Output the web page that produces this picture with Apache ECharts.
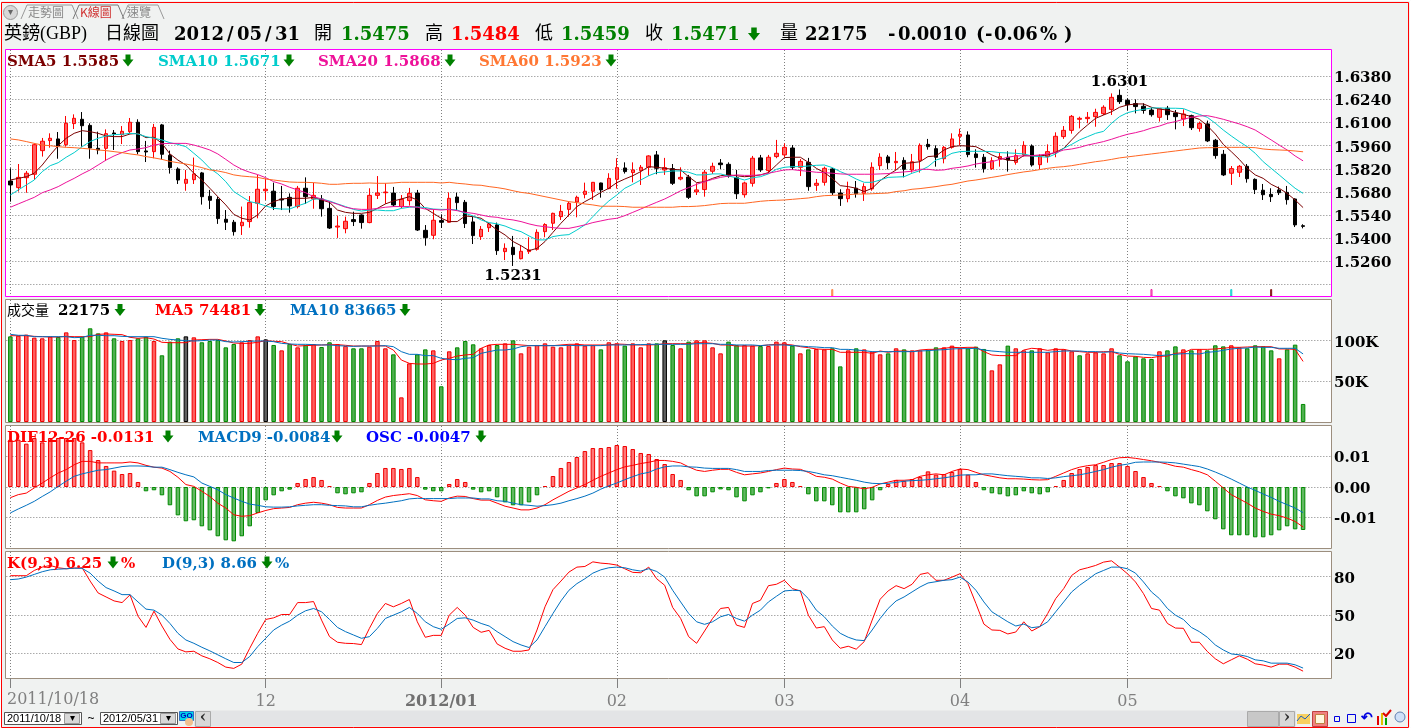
<!DOCTYPE html>
<html>
<head>
<meta charset="utf-8">
<title>英鎊(GBP) 日線圖</title>
<style>
  html, body { margin: 0; padding: 0; background: #fff; }
  #chart { width: 1411px; height: 728px; }
</style>
<script src="https://cdn.jsdelivr.net/npm/echarts@6/dist/echarts.min.js"></script>
</head>
<body>
<div id="chart"></div>
<script>
// open, close, low, high
const ohlc = [
[1.5746,1.5722,1.5621,1.5823],[1.5706,1.5768,1.5682,1.5849],[1.5766,1.5793,1.5675,1.5807],[1.5787,1.5966,1.5752,1.5974],[1.5930,1.5987,1.5894,1.6007],
[1.5991,1.6005,1.5948,1.6035],[1.6001,1.5958,1.5881,1.6043],[1.5966,1.6096,1.5954,1.6140],[1.6094,1.6126,1.6061,1.6150],[1.6120,1.6081,1.5954,1.6164],
[1.6083,1.5946,1.5881,1.6096],[1.5944,1.5934,1.5908,1.6045],[1.5944,1.6033,1.5867,1.6059],[1.6037,1.6031,1.5934,1.6055],[1.6027,1.6047,1.5970,1.6079],
[1.6045,1.6102,1.6031,1.6128],[1.6102,1.5924,1.5908,1.6120],[1.5928,1.5922,1.5861,1.5989],[1.5924,1.6071,1.5884,1.6092],[1.6086,1.5908,1.5877,1.6092],
[1.5902,1.5827,1.5791,1.5930],[1.5819,1.5752,1.5728,1.5829],[1.5732,1.5756,1.5687,1.5813],[1.5754,1.5789,1.5728,1.5888],[1.5795,1.5651,1.5603,1.5801],
[1.5653,1.5629,1.5576,1.5692],[1.5635,1.5518,1.5486,1.5651],[1.5514,1.5496,1.5449,1.5570],[1.5496,1.5439,1.5415,1.5510],[1.5475,1.5496,1.5419,1.5591],
[1.5500,1.5615,1.5463,1.5655],[1.5611,1.5696,1.5520,1.5783],[1.5687,1.5696,1.5631,1.5762],[1.5684,1.5591,1.5570,1.5736],[1.5637,1.5631,1.5570,1.5716],
[1.5647,1.5595,1.5554,1.5671],[1.5591,1.5702,1.5580,1.5716],[1.5702,1.5651,1.5607,1.5768],[1.5637,1.5659,1.5578,1.5736],[1.5637,1.5578,1.5530,1.5661],
[1.5580,1.5461,1.5455,1.5621],[1.5467,1.5473,1.5401,1.5536],[1.5457,1.5502,1.5429,1.5530],[1.5512,1.5500,1.5473,1.5560],[1.5540,1.5494,1.5457,1.5544],
[1.5494,1.5659,1.5490,1.5702],[1.5659,1.5673,1.5637,1.5776],[1.5675,1.5679,1.5607,1.5732],[1.5673,1.5601,1.5591,1.5710],[1.5591,1.5635,1.5580,1.5661],
[1.5627,1.5671,1.5597,1.5704],[1.5673,1.5449,1.5443,1.5692],[1.5447,1.5403,1.5354,1.5479],[1.5417,1.5508,1.5393,1.5574],[1.5506,1.5496,1.5461,1.5544],
[1.5496,1.5641,1.5494,1.5677],[1.5649,1.5615,1.5570,1.5675],[1.5617,1.5488,1.5461,1.5631],[1.5498,1.5415,1.5364,1.5530],[1.5409,1.5453,1.5389,1.5473],
[1.5463,1.5486,1.5437,1.5494],[1.5480,1.5324,1.5298,1.5494],[1.5318,1.5338,1.5267,1.5368],[1.5344,1.5300,1.5231,1.5413],[1.5275,1.5320,1.5271,1.5358],
[1.5318,1.5328,1.5304,1.5405],[1.5332,1.5435,1.5324,1.5453],[1.5439,1.5482,1.5405,1.5490],[1.5490,1.5550,1.5449,1.5554],[1.5530,1.5562,1.5510,1.5601],
[1.5574,1.5611,1.5530,1.5621],[1.5619,1.5647,1.5526,1.5657],[1.5665,1.5684,1.5641,1.5736],[1.5684,1.5738,1.5631,1.5740],[1.5734,1.5692,1.5645,1.5736],
[1.5700,1.5762,1.5696,1.5793],[1.5756,1.5827,1.5700,1.5884],[1.5825,1.5803,1.5791,1.5859],[1.5797,1.5813,1.5738,1.5859],[1.5809,1.5829,1.5722,1.5843],
[1.5829,1.5898,1.5778,1.5902],[1.5904,1.5823,1.5787,1.5928],[1.5813,1.5827,1.5783,1.5886],[1.5821,1.5732,1.5722,1.5849],[1.5758,1.5768,1.5750,1.5829],
[1.5770,1.5647,1.5637,1.5783],[1.5680,1.5692,1.5661,1.5732],[1.5694,1.5799,1.5651,1.5813],[1.5805,1.5835,1.5789,1.5857],[1.5855,1.5845,1.5819,1.5879],
[1.5847,1.5776,1.5766,1.5859],[1.5766,1.5669,1.5637,1.5813],[1.5663,1.5734,1.5645,1.5742],[1.5732,1.5884,1.5712,1.5898],[1.5886,1.5813,1.5801,1.5904],
[1.5809,1.5890,1.5793,1.5904],[1.5894,1.5914,1.5884,1.5995],[1.5904,1.5950,1.5890,1.5974],[1.5946,1.5829,1.5813,1.5964],[1.5829,1.5865,1.5776,1.5879],
[1.5859,1.5712,1.5687,1.5886],[1.5720,1.5732,1.5686,1.5758],[1.5738,1.5823,1.5718,1.5833],[1.5819,1.5675,1.5661,1.5825],[1.5673,1.5639,1.5595,1.5696],
[1.5639,1.5696,1.5617,1.5742],[1.5702,1.5669,1.5645,1.5746],[1.5671,1.5712,1.5625,1.5732],[1.5698,1.5829,1.5687,1.5859],[1.5839,1.5890,1.5813,1.5914],
[1.5892,1.5857,1.5817,1.5904],[1.5857,1.5865,1.5813,1.5922],[1.5871,1.5817,1.5768,1.5890],[1.5813,1.5863,1.5797,1.5910],[1.5871,1.5962,1.5797,1.5974],
[1.5968,1.5954,1.5936,1.6001],[1.5942,1.5890,1.5833,1.5962],[1.5881,1.5950,1.5853,1.5958],[1.5950,1.6001,1.5942,1.6035],[1.6017,1.6029,1.5964,1.6063],
[1.6025,1.5906,1.5890,1.6047],[1.5910,1.5888,1.5827,1.5938],[1.5890,1.5821,1.5797,1.5910],[1.5821,1.5869,1.5813,1.5890],[1.5877,1.5894,1.5833,1.5918],
[1.5890,1.5873,1.5803,1.5926],[1.5859,1.5900,1.5845,1.5938],[1.5904,1.5962,1.5894,1.5987],[1.5958,1.5843,1.5833,1.5968],[1.5845,1.5894,1.5817,1.5908],
[1.5894,1.5924,1.5857,1.5968],[1.5920,1.6017,1.5890,1.6041],[1.6015,1.6053,1.6001,1.6079],[1.6053,1.6138,1.6033,1.6146],[1.6120,1.6126,1.6065,1.6136],
[1.6124,1.6132,1.6096,1.6164],[1.6136,1.6162,1.6075,1.6184],[1.6154,1.6193,1.6146,1.6205],[1.6180,1.6253,1.6146,1.6277],[1.6265,1.6227,1.6213,1.6301],
[1.6235,1.6209,1.6174,1.6247],[1.6215,1.6197,1.6156,1.6241],[1.6199,1.6174,1.6154,1.6217],[1.6176,1.6148,1.6136,1.6191],[1.6132,1.6185,1.6106,1.6187],
[1.6187,1.6148,1.6116,1.6201],[1.6158,1.6136,1.6059,1.6176],[1.6122,1.6152,1.6079,1.6180],[1.6142,1.6069,1.6055,1.6148],[1.6065,1.6094,1.6045,1.6106],
[1.6092,1.5989,1.5982,1.6112],[1.5993,1.5900,1.5881,1.6001],[1.5908,1.5783,1.5776,1.5934],[1.5793,1.5821,1.5722,1.5837],[1.5799,1.5835,1.5770,1.5843],
[1.5835,1.5760,1.5736,1.5849],[1.5756,1.5694,1.5667,1.5762],[1.5690,1.5663,1.5631,1.5728],[1.5665,1.5651,1.5619,1.5702],[1.5692,1.5675,1.5661,1.5712],
[1.5677,1.5633,1.5603,1.5716],[1.5637,1.5480,1.5467,1.5641],[1.5475,1.5471,1.5459,1.5484]
];
const sma5 = [1.5752,1.5762,1.5772,1.5793,1.5843,1.5904,1.5960,1.6005,1.6035,1.6051,1.6045,1.6035,1.6019,1.6015,1.6015,1.6031,1.6035,1.6009,1.6011,1.5974,
1.5910,1.5873,1.5843,1.5793,1.5752,1.5702,1.5651,1.5601,1.5544,1.5520,1.5510,1.5540,1.5595,1.5621,1.5637,1.5641,1.5641,1.5641,1.5647,1.5631,
1.5617,1.5570,1.5556,1.5550,1.5550,1.5556,1.5580,1.5607,1.5625,1.5637,1.5651,1.5631,1.5580,1.5550,1.5520,1.5500,1.5500,1.5534,1.5530,1.5520,
1.5486,1.5449,1.5419,1.5379,1.5354,1.5324,1.5338,1.5379,1.5435,1.5490,1.5540,1.5591,1.5621,1.5647,1.5677,1.5702,1.5736,1.5758,1.5778,1.5803,
1.5833,1.5829,1.5823,1.5817,1.5813,1.5772,1.5736,1.5742,1.5762,1.5778,1.5783,1.5778,1.5772,1.5776,1.5783,1.5797,1.5843,1.5888,1.5890,1.5890,
1.5859,1.5823,1.5797,1.5762,1.5718,1.5712,1.5702,1.5682,1.5702,1.5748,1.5783,1.5813,1.5853,1.5857,1.5863,1.5894,1.5898,1.5934,1.5954,1.5960,
1.5958,1.5954,1.5930,1.5904,1.5884,1.5873,1.5869,1.5900,1.5898,1.5898,1.5904,1.5920,1.5944,1.5995,1.6045,1.6086,1.6126,1.6146,1.6166,1.6193,
1.6207,1.6213,1.6213,1.6193,1.6182,1.6176,1.6162,1.6150,1.6136,1.6120,1.6081,1.6031,1.5968,1.5924,1.5877,1.5823,1.5783,1.5762,1.5726,1.5702,
1.5671,1.5631,1.5585];
const sma10 = [1.5661,1.5692,1.5722,1.5752,1.5803,1.5839,1.5857,1.5890,1.5918,1.5954,1.5985,1.6005,1.6019,1.6027,1.6029,1.6035,1.6031,1.6015,1.6005,1.5995,
1.5978,1.5968,1.5954,1.5914,1.5873,1.5823,1.5789,1.5742,1.5682,1.5651,1.5621,1.5611,1.5595,1.5580,1.5576,1.5576,1.5595,1.5611,1.5637,1.5637,
1.5625,1.5607,1.5591,1.5574,1.5564,1.5570,1.5570,1.5566,1.5566,1.5580,1.5587,1.5589,1.5585,1.5576,1.5574,1.5574,1.5570,1.5550,1.5534,1.5510,
1.5494,1.5486,1.5473,1.5453,1.5439,1.5413,1.5389,1.5389,1.5409,1.5417,1.5421,1.5449,1.5480,1.5530,1.5580,1.5625,1.5661,1.5702,1.5726,1.5752,
1.5778,1.5797,1.5801,1.5807,1.5807,1.5799,1.5783,1.5783,1.5789,1.5789,1.5776,1.5766,1.5752,1.5766,1.5772,1.5789,1.5817,1.5829,1.5833,1.5833,
1.5837,1.5841,1.5843,1.5827,1.5803,1.5783,1.5758,1.5738,1.5738,1.5752,1.5768,1.5770,1.5772,1.5793,1.5809,1.5833,1.5873,1.5888,1.5914,1.5924,
1.5926,1.5926,1.5926,1.5924,1.5918,1.5916,1.5914,1.5910,1.5898,1.5894,1.5890,1.5910,1.5944,1.5968,1.5995,1.6015,1.6035,1.6047,1.6096,1.6136,
1.6160,1.6172,1.6180,1.6189,1.6189,1.6187,1.6187,1.6185,1.6166,1.6150,1.6132,1.6096,1.6055,1.6019,1.5985,1.5954,1.5914,1.5863,1.5823,1.5783,
1.5742,1.5702,1.5671];
const sma20 = [1.5587,1.5607,1.5627,1.5647,1.5675,1.5692,1.5712,1.5738,1.5762,1.5789,1.5813,1.5843,1.5873,1.5898,1.5918,1.5934,1.5940,1.5948,1.5964,1.5972,
1.5974,1.5974,1.5974,1.5964,1.5950,1.5934,1.5910,1.5877,1.5843,1.5817,1.5799,1.5785,1.5766,1.5742,1.5728,1.5708,1.5692,1.5675,1.5651,1.5637,
1.5621,1.5605,1.5587,1.5578,1.5574,1.5574,1.5580,1.5587,1.5591,1.5591,1.5591,1.5587,1.5576,1.5574,1.5570,1.5574,1.5566,1.5556,1.5550,1.5540,
1.5530,1.5526,1.5516,1.5510,1.5500,1.5486,1.5475,1.5469,1.5463,1.5459,1.5459,1.5469,1.5480,1.5494,1.5504,1.5514,1.5520,1.5536,1.5556,1.5576,
1.5597,1.5617,1.5637,1.5661,1.5687,1.5706,1.5726,1.5742,1.5756,1.5768,1.5776,1.5783,1.5780,1.5780,1.5783,1.5793,1.5803,1.5813,1.5815,1.5809,
1.5805,1.5799,1.5797,1.5793,1.5789,1.5787,1.5787,1.5787,1.5787,1.5789,1.5791,1.5797,1.5801,1.5805,1.5817,1.5817,1.5811,1.5813,1.5823,1.5829,
1.5837,1.5849,1.5857,1.5863,1.5877,1.5890,1.5898,1.5898,1.5900,1.5904,1.5910,1.5918,1.5934,1.5940,1.5950,1.5964,1.5974,1.5985,1.5999,1.6015,
1.6029,1.6039,1.6051,1.6067,1.6079,1.6096,1.6106,1.6120,1.6132,1.6140,1.6142,1.6132,1.6120,1.6106,1.6092,1.6075,1.6055,1.6025,1.5995,1.5964,
1.5934,1.5898,1.5868];
const sma60 = [1.6001,1.5995,1.5985,1.5974,1.5964,1.5960,1.5954,1.5950,1.5948,1.5944,1.5940,1.5934,1.5930,1.5924,1.5918,1.5910,1.5904,1.5894,1.5886,1.5877,
1.5865,1.5857,1.5849,1.5839,1.5827,1.5813,1.5807,1.5797,1.5783,1.5776,1.5772,1.5768,1.5758,1.5752,1.5746,1.5740,1.5738,1.5738,1.5736,1.5732,
1.5726,1.5726,1.5730,1.5732,1.5732,1.5734,1.5732,1.5732,1.5734,1.5738,1.5738,1.5738,1.5738,1.5738,1.5734,1.5738,1.5732,1.5728,1.5722,1.5720,
1.5712,1.5706,1.5698,1.5687,1.5677,1.5671,1.5661,1.5651,1.5641,1.5631,1.5621,1.5615,1.5607,1.5601,1.5593,1.5593,1.5593,1.5591,1.5587,1.5587,
1.5587,1.5587,1.5587,1.5587,1.5591,1.5591,1.5593,1.5597,1.5603,1.5609,1.5611,1.5611,1.5611,1.5617,1.5623,1.5627,1.5629,1.5631,1.5635,1.5639,
1.5643,1.5651,1.5657,1.5659,1.5661,1.5663,1.5667,1.5667,1.5669,1.5671,1.5673,1.5682,1.5687,1.5696,1.5700,1.5706,1.5712,1.5720,1.5726,1.5736,
1.5746,1.5752,1.5760,1.5768,1.5776,1.5785,1.5793,1.5801,1.5807,1.5815,1.5823,1.5829,1.5833,1.5839,1.5847,1.5855,1.5863,1.5869,1.5877,1.5886,
1.5892,1.5898,1.5904,1.5910,1.5916,1.5922,1.5928,1.5934,1.5940,1.5946,1.5948,1.5948,1.5950,1.5950,1.5950,1.5950,1.5948,1.5940,1.5936,1.5934,
1.5932,1.5928,1.5923];
// volume in thousands
const volume = [105.3,106.1,107.4,103.7,102.9,104.9,104.5,110.2,100.8,104.9,115.2,109,110.2,102.9,99.6,100.8,102.9,104.9,99.6,82,
98.8,102.9,105.3,104.1,98,99.6,100.8,91.8,95.9,98,100.8,105.3,101.6,94.7,88.1,95.9,91.8,94.7,95.9,92.2,
98,95.9,93.4,90.6,90.6,92.6,99.6,90.6,83.2,30.3,72.1,83.2,89.3,88.1,43.9,86.9,91.8,99.6,95.5,90.6,
94.7,94.7,96.7,100.4,84.4,92.6,94.7,96.7,92.6,91.8,94.7,96.7,93.9,94.7,89.3,98,96.7,93.9,96.7,91.8,
96.7,96.7,100.4,94.7,90.6,98.8,100.4,100.4,91.8,84.4,98.8,94.7,94.7,93.9,93.4,93.4,98.8,98,93.9,84.4,
89.3,89.8,89.3,90.6,68.4,88.1,90.6,89.3,86.5,83.2,84.4,90.6,89.3,88.1,88.1,88.5,91.8,91.8,93.9,90.6,
90.6,92.6,89.8,63.5,70.9,93.9,90.6,88.1,88.1,90.6,85.7,90.6,89.3,86.9,82,84.4,85.7,84.4,90.6,82,
74.6,80.7,78.3,77.5,86.9,88.1,93,89.3,88.1,89.3,88.1,94.3,93,94.3,91.8,90.6,94.3,93,88.1,78.3,
89.3,95.1,22.175];
// r up, g down, k flat
const volumeSide = ("grrrrrgrrg"+"ggrgrrggrg"+"ggkrgggggr"+"rrkgrgrgrg"+"grrggrrrgr"+"rggrgrgggr"+"rgrgrrrrrr"+"rrrrgrrgrr"+
  "rgkgrgrrrr"+"ggrrgrrrgr"+"grrggrgrrr"+"grgrrggrrr"+"gggrrgrrgr"+"rrrrgrrrrg"+"ggggrggrgr"+"gggrrggggr"+"ggg").split("");
const volMa5 = [106.1,106.1,106.1,105.3,104.9,104.5,104.5,105.3,104.9,104.9,104.9,107.8,108.2,107.8,107.4,104.1,102.9,103.7,102,98,
97.5,97.5,97.5,100.8,101.2,101.6,101.6,99.6,97.1,96.7,96.7,98,100,99.2,98.8,95.9,93.4,93.9,94.3,94.7,
95.1,95.1,94.3,93.4,93.4,93.4,93.9,93.4,88.5,76.2,72.1,71.3,71.3,72.1,76.2,78.3,81.1,82.4,83.2,90.6,
94.7,95.5,95.5,95.5,94.7,93.9,93.9,93.9,93.9,94.7,95.5,95.5,94.7,94.7,94.7,94.7,95.9,95.5,94.7,94.7,
94.7,95.1,96.3,96.3,96.3,96.3,97.5,97.5,96.7,94.7,94.7,93.4,93.4,93.4,93.9,94.7,95.5,95.5,94.7,92.6,
91.4,89.8,89.3,89.3,85.7,85.7,85.7,85.7,84.4,87.3,85.7,87.3,87.3,86.5,88.5,89.3,89.3,90.6,91.8,91.4,
91.8,91.8,86.5,82.4,81.6,81.6,81.6,88.5,90.6,89.8,88.1,89.3,89.3,87.3,86.5,85.7,85.7,86.5,86.5,83.2,
81.1,80.7,79.5,79.1,80.7,81.1,84.4,85.2,89.3,89.3,89.3,89.8,90.6,91.8,91.8,92.2,92.6,92.6,92.6,89.8,
89.8,89.3,74.481];
const volMa10 = [107.8,106.6,106.6,104.9,104.9,104.9,104.9,104.9,103.7,104.1,106.6,106.6,106.1,106.1,105.3,104.9,104.9,104.9,104.9,102.9,
101.6,100.8,100,99.6,100,100.8,100.8,98.8,98.4,98.8,99.2,99.6,99.6,98.8,96.7,95.9,95.5,95.5,95.1,94.7,
94.7,93.9,93.4,93,93.4,93.4,93.4,93.9,92.6,86.5,83.2,83.2,81.6,81.6,78.3,77,76.6,78.3,79.1,84.4,
86.5,88.5,88.5,89.8,92.6,93.9,93.9,93.9,93.9,93.9,94.3,93.9,93.9,93.9,93.9,94.7,94.7,94.7,95.1,95.1,
95.5,95.5,95.5,95.5,95.5,95.5,96.3,96.3,96.3,95.5,95.5,94.7,94.7,94.7,93.9,94.7,94.7,94.7,93.9,93.4,
92.6,92.2,91.4,91.4,89.3,89.3,88.5,87.7,86.5,86.5,86.5,86.5,86.5,86.5,87.3,87.7,88.5,88.9,89.8,90.2,
90.2,90.6,88.5,87.3,86.5,85.7,85.7,85.7,85.7,85.7,85.7,86.5,87.3,87.3,87.3,86.5,86.5,85.7,86.5,84.8,
84,83.6,83.2,82.4,81.6,82.4,83.2,84,84,83.6,85.7,86.5,88.1,89.8,90.6,91,92.2,91.8,91.8,90.6,
90.6,90.6,83.665];
const dif = [-0.0035,-0.0025,-0.0020,-0.0003,0.0013,0.0030,0.0046,0.0057,0.0073,0.0084,0.0084,0.0079,0.0079,0.0079,0.0079,0.0082,0.0079,0.0071,0.0065,0.0062,
0.0051,0.0032,0.0008,0.0002,-0.0014,-0.0031,-0.0053,-0.0069,-0.0091,-0.0096,-0.0094,-0.0085,-0.0077,-0.0071,-0.0069,-0.0067,-0.0058,-0.0053,-0.0050,-0.0053,
-0.0058,-0.0067,-0.0069,-0.0069,-0.0069,-0.0058,-0.0044,-0.0033,-0.0028,-0.0025,-0.0022,-0.0028,-0.0042,-0.0045,-0.0047,-0.0036,-0.0030,-0.0031,-0.0038,-0.0043,
-0.0043,-0.0053,-0.0063,-0.0069,-0.0075,-0.0075,-0.0069,-0.0058,-0.0042,-0.0028,-0.0014,-0.0003,0.0008,0.0022,0.0035,0.0046,0.0057,0.0066,0.0071,0.0077,
0.0081,0.0087,0.0087,0.0084,0.0079,0.0066,0.0055,0.0051,0.0055,0.0058,0.0058,0.0048,0.0040,0.0043,0.0046,0.0051,0.0057,0.0062,0.0059,0.0058,
0.0048,0.0035,0.0032,0.0026,0.0013,0.0002,-0.0001,-0.0006,-0.0001,0.0010,0.0016,0.0022,0.0022,0.0024,0.0035,0.0040,0.0043,0.0040,0.0051,0.0059,
0.0057,0.0048,0.0040,0.0035,0.0030,0.0027,0.0027,0.0026,0.0024,0.0023,0.0024,0.0035,0.0046,0.0057,0.0065,0.0070,0.0073,0.0081,0.0090,0.0096,
0.0097,0.0094,0.0090,0.0086,0.0081,0.0075,0.0068,0.0065,0.0057,0.0050,0.0040,0.0019,-0.0003,-0.0025,-0.0039,-0.0053,-0.0069,-0.0080,-0.0089,-0.0094,
-0.0102,-0.0113,-0.0131];
const macd = [-0.0085,-0.0072,-0.0060,-0.0047,-0.0031,-0.0016,0.0002,0.0019,0.0035,0.0043,0.0049,0.0055,0.0057,0.0062,0.0067,0.0069,0.0069,0.0068,0.0065,0.0065,
0.0057,0.0048,0.0040,0.0033,0.0013,0.0002,-0.0009,-0.0025,-0.0036,-0.0047,-0.0056,-0.0060,-0.0065,-0.0066,-0.0066,-0.0065,-0.0062,-0.0060,-0.0058,-0.0058,
-0.0060,-0.0061,-0.0062,-0.0065,-0.0065,-0.0060,-0.0056,-0.0053,-0.0049,-0.0045,-0.0039,-0.0037,-0.0038,-0.0038,-0.0038,-0.0038,-0.0036,-0.0036,-0.0036,-0.0039,
-0.0039,-0.0045,-0.0047,-0.0053,-0.0058,-0.0060,-0.0063,-0.0061,-0.0058,-0.0053,-0.0045,-0.0038,-0.0030,-0.0020,-0.0007,0.0004,0.0013,0.0024,0.0034,0.0043,
0.0048,0.0059,0.0066,0.0069,0.0069,0.0066,0.0065,0.0062,0.0061,0.0061,0.0061,0.0057,0.0051,0.0051,0.0051,0.0054,0.0055,0.0055,0.0055,0.0054,
0.0051,0.0046,0.0040,0.0037,0.0032,0.0027,0.0022,0.0016,0.0012,0.0011,0.0012,0.0015,0.0019,0.0021,0.0022,0.0024,0.0027,0.0030,0.0034,0.0039,
0.0040,0.0040,0.0043,0.0043,0.0040,0.0037,0.0035,0.0033,0.0030,0.0030,0.0028,0.0030,0.0034,0.0037,0.0040,0.0045,0.0051,0.0057,0.0065,0.0071,
0.0075,0.0081,0.0082,0.0082,0.0082,0.0081,0.0079,0.0075,0.0071,0.0067,0.0059,0.0049,0.0038,0.0026,0.0013,0,-0.0011,-0.0023,-0.0034,-0.0047,
-0.0058,-0.0069,-0.0084];
const osc = [0.00517,0.00517,0.00474,0.00536,0.00488,0.00536,0.00536,0.00536,0.00536,0.00488,0.00404,0.00295,0.0023,0.00179,0.00142,0.00153,0.00055,-0.00047,-0.00036,-0.00091,
-0.002,-0.0031,-0.00375,-0.00364,-0.0043,-0.00474,-0.00539,-0.00583,-0.00594,-0.00539,-0.0043,-0.00284,-0.00146,-0.00091,-0.00047,-0.00029,0.00044,0.00087,0.00109,0.00077,
0.00011,-0.00069,-0.0008,-0.00069,-0.00058,0.00044,0.00153,0.00208,0.00208,0.00197,0.00208,0.00109,-0.00029,-0.00047,-0.00047,0.00033,0.00087,0.00055,-0.00029,-0.00058,
-0.00047,-0.00113,-0.00168,-0.002,-0.002,-0.00168,-0.00091,0.00011,0.0012,0.00208,0.00273,0.00328,0.00393,0.00426,0.00426,0.00437,0.00459,0.00448,0.00415,0.00372,
0.00361,0.00306,0.00251,0.00142,0.00077,-0.00036,-0.00102,-0.00102,-0.00058,-0.00026,-0.00036,-0.00113,-0.00157,-0.00091,-0.00058,-0.00015,0.00044,0.00087,0.00055,0.00011,
-0.0008,-0.00157,-0.00157,-0.002,-0.00277,-0.00277,-0.00277,-0.00244,-0.00146,-0.00036,0.00033,0.00077,0.00066,0.00087,0.00109,0.00171,0.00135,0.00142,0.00164,0.00197,
0.00135,0.00055,-0.00036,-0.00069,-0.0008,-0.00102,-0.00091,-0.00047,-0.00069,-0.0008,-0.00058,0.00011,0.00077,0.00153,0.00197,0.00219,0.0024,0.0024,0.00262,0.00262,
0.0023,0.00175,0.00109,0.00044,0.00011,-0.00047,-0.00102,-0.00124,-0.00179,-0.002,-0.00266,-0.00353,-0.00463,-0.00528,-0.00528,-0.00528,-0.0055,-0.0055,-0.00528,-0.00474,
-0.0043,-0.00463,-0.0047];
const kLine = [80.8,80.8,80.8,84.9,87.5,88.8,87,86.2,86.7,87,76.6,67.3,64.2,61.1,59.8,65.8,49.2,40.4,53.1,41.5,
31.1,23.6,21.3,21.8,18.2,15.9,13,9.4,8.4,11.7,24.1,35.8,46.6,47.9,50.5,50.5,59.8,59.8,60.6,46.1,
33.2,28.8,28,27.8,27,39.7,51.3,59.1,56.5,59.1,62.2,44.8,32.7,34.2,34.2,50,56,50,40.4,36.6,
38.1,27.5,24.1,21.8,21.8,22.8,38.4,56.5,69.9,76.6,83.6,87.5,88,91.6,90.6,90.1,89.1,86.2,83.4,83.1,
87.5,78.4,73.3,56,47.4,33.2,28,37.6,47.4,55.2,56,42.2,40.4,59.1,61.6,73,74.1,77.2,70.7,68.9,
50,39.9,41,30.6,24.1,25.7,23.4,29.3,46.1,62.4,68.9,73,70.7,74.1,81.8,83.1,77.2,77.2,79.7,82.3,
74.6,59.1,43,38.4,38.1,35.3,36.8,44.8,37.6,41,51.3,62.9,70.7,81,85.4,87,88.8,91.4,92.4,87.5,
82.3,75.9,66.8,55.2,53.9,43.5,39.9,39.7,28.8,28.8,21.6,15.9,12,15.1,18.2,15.6,12,11,9.4,11.7,
11.7,9.4,6.25];
const dLine = [77.7,78.2,79.7,81.8,83.9,85.4,85.9,86.2,86.7,86.5,82.8,76.6,71.5,68.9,66,66,60.3,54.7,53.9,50,
43.5,35.8,30.6,28,24.9,22.1,19,15.9,13,13,17.7,25.4,31.9,38.4,42.2,45.3,50,53.4,55.2,52.6,
46.6,40.4,37.1,34.5,31.9,33.2,39.7,47.4,50,52.6,56,51.3,44.8,41,38.9,43,47.4,47.9,46.1,43.5,
41.5,37.1,33.2,29.3,26.7,24.7,30.6,41,51.3,61.1,69.4,74.6,78.4,82.8,85.4,87,87.5,87,85.4,84.4,
86.2,84.1,79.7,69.4,60.3,51.3,44.8,42.8,44.8,48.7,50.5,47.4,45.3,50,53.9,60.3,64.7,68.9,69.4,69.1,
62.9,53.9,48.7,41.5,35.8,32.7,30.6,30.1,38.4,47.4,55.2,61.1,64.2,68.1,72,75.1,76.1,77.2,77.7,79.7,
75.9,69.4,60.3,52.6,48.7,44.8,41.5,43,40.2,41,44.8,52.6,60.3,68.1,73.3,77.7,82.3,84.9,87.5,87.5,
86.2,82.8,75.9,68.1,62.9,55.2,50,46.6,40.4,37.1,32.7,26.7,22.8,19.7,19,17.7,15.1,14.3,12.5,12.5,
12.5,11.2,8.66];
const priceTicks = [1.526,1.54,1.554,1.568,1.582,1.596,1.61,1.624,1.638];
const priceGrid = [1.512].concat(priceTicks);
const volumeTicks = [50,100];
const macdTicks = [-0.01,0,0.01];
const kdTicks = [20,50,80];
const monthTicks = [0,32,54,76,97,119,140];
const monthLabels = ["2011/10/18","12","{b|2012/01}","02","03","04","05"];
// small cross marks along the bottom of the price panel: index, height
const crossIdx = [103,143,153,158];
const crossVal = [1.5091,1.5091,1.5091,1.5091];
const crossColor = ["#FF7733","#EE1199","#00CCCC","#7B0000"];

// weekdays from the first bar, 3 spare slots on the right like the original
const categories = [];
for (let d = new Date(Date.UTC(2011, 9, 18)); categories.length < 166; d.setUTCDate(d.getUTCDate() + 1)) {
  const wd = d.getUTCDay();
  if (wd === 0 || wd === 6) continue;
  categories.push(d.toISOString().slice(0, 10).replace(/-/g, "/"));
}

const SERIF = '"DejaVu Serif"';
const CJK = '"Liberation Serif","Noto Sans CJK TC"';
const GREEN = "#008000";
const isTick = function (i) { return monthTicks.indexOf(i) >= 0; };
const dotted = { type: [1, 2], color: "#808080", width: 1 };

const grids = [
  { top: 50, height: 246 },
  { top: 300, height: 122 },
  { top: 426, height: 122 },
  { top: 552, height: 126 }
].map(function (g) {
  return { show: false, left: 6.34, width: 1324.68, top: g.top, height: g.height };
});

const xAxes = [0, 1, 2, 3].map(function (i) {
  const last = i === 3;
  return {
    type: "category", gridIndex: i, data: categories, boundaryGap: true,
    axisLine: { show: false },
    axisTick: { show: last, interval: isTick, alignWithLabel: true, length: 10, lineStyle: { color: "#808080" } },
    axisLabel: {
      show: last, interval: isTick, margin: 16,
      color: "#808080", fontFamily: SERIF, fontSize: 16,
      rich: { b: { fontFamily: SERIF, fontSize: 16, fontWeight: "bold", color: "#707070" } },
      formatter: function (v, idx) { return idx === 0 ? "" : monthLabels[monthTicks.indexOf(idx)] || ""; }
    },
    splitLine: { show: true, interval: isTick, alignWithLabel: true, lineStyle: dotted }
  };
});

function rightAxis(gridIndex, min, max, labels, lines, fmt) {
  return {
    type: "value", gridIndex: gridIndex, position: "right", min: min, max: max, scale: true,
    axisLine: { show: false },
    axisTick: { show: false, customValues: lines },
    axisLabel: {
      customValues: labels, margin: 3,
      formatter: function (v) { return "{v|" + fmt(v) + "}"; },
      rich: { v: { padding: [4, 0, 0, 0], color: "#000", fontFamily: SERIF, fontWeight: "bold", fontSize: 15 } }
    },
    splitLine: { show: true, lineStyle: dotted }
  };
}

const yAxes = [
  rightAxis(0, 1.5049, 1.654, priceTicks, priceGrid, function (v) { return v.toFixed(4); }),
  rightAxis(1, 0, 150, volumeTicks, volumeTicks, function (v) { return v + "K"; }),
  rightAxis(2, -0.02, 0.02, macdTicks, macdTicks, function (v) { return v.toFixed(2); }),
  rightAxis(3, 0.9, 99.3, kdTicks, kdTicks, function (v) { return String(v); }),
  // OSC bars run on their own 3x scale
  { type: "value", gridIndex: 2, show: false, min: -0.00667, max: 0.00667, splitLine: { show: false } }
];

function line(name, data, color, x, y) {
  return { name: name, type: "line", xAxisIndex: x, yAxisIndex: y, data: data, symbol: "none", silent: true,
    lineStyle: { color: color, width: 1 }, z: 5 };
}
const barPaint = {
  r: { color: "#FF5F5F", borderColor: "#F00000", borderWidth: 1 },
  g: { color: "#4FAF4F", borderColor: "#008A00", borderWidth: 1 },
  k: { color: "#606060", borderColor: "#000", borderWidth: 1 }
};
const oscPaint = {
  r: { color: "#FF7878", borderColor: "#F00000", borderWidth: 1 },
  g: { color: "#62B862", borderColor: "#008A00", borderWidth: 1 }
};

const series = [
  {
    name: "K", type: "candlestick", xAxisIndex: 0, yAxisIndex: 0, data: ohlc, barWidth: 4,
    itemStyle: { color: "#FF6060", color0: "#000", borderColor: "#FF0000", borderColor0: "#000", borderWidth: 1 },
    markPoint: {
      symbol: "circle", symbolSize: 0, silent: true,
      label: { show: true, color: "#000", fontFamily: SERIF, fontWeight: "bold", fontSize: 15 },
      data: [
        { coord: [categories[139], 1.6301], label: { position: "top", formatter: "1.6301", distance: 0 } },
        { coord: [categories[63], 1.5231], label: { position: "bottom", formatter: "1.5231", distance: 3 } }
      ]
    }
  },
  {
    name: "cross", type: "bar", xAxisIndex: 0, yAxisIndex: 0, barWidth: 2, silent: true,
    data: crossIdx.map(function (c, i) {
      return { value: [c, crossVal[i]], itemStyle: { color: "#fff", borderColor: crossColor[i], borderWidth: 1 } };
    })
  },
  line("SMA5", sma5, "#7B0000", 0, 0),
  line("SMA10", sma10, "#00CCCC", 0, 0),
  line("SMA20", sma20, "#EE1199", 0, 0),
  line("SMA60", sma60, "#FF6622", 0, 0),
  {
    name: "VOL", type: "bar", xAxisIndex: 1, yAxisIndex: 1, barWidth: 4.5, silent: true,
    data: volume.map(function (v, i) { return { value: v, itemStyle: barPaint[volumeSide[i]] }; })
  },
  line("MA5", volMa5, "#FF0000", 1, 1),
  line("MA10", volMa10, "#0070C0", 1, 1),
  {
    name: "OSC", type: "bar", xAxisIndex: 2, yAxisIndex: 4, barWidth: 4.5, silent: true,
    data: osc.map(function (v) { return { value: v, itemStyle: oscPaint[v >= 0 ? "r" : "g"] }; })
  },
  line("DIF", dif, "#FF0000", 2, 2),
  line("MACD", macd, "#0070C0", 2, 2),
  line("K(9,3)", kLine, "#FF0000", 3, 3),
  line("D(9,3)", dLine, "#0070C0", 3, 3)
];

// ---- everything around the plots ----
const deco = [];
function text(str, x, y, color, font, align) {
  deco.push({ type: "text", x: x, y: y, z: 50, silent: true,
    style: { text: str, fill: color, font: font, textVerticalAlign: "middle", textAlign: align || "left" } });
}
function bold(str, x, y, color) { text(str, x, y + 1.5, color, "bold 15px " + SERIF); }
function big(str, x, color) { text(str, x, 35.5, color, "bold 18px " + SERIF); }
function cjk(str, x) { text(str, x, 34, "#000", "18px " + CJK); }
function arrow(x, y, s) {
  const k = s || 1;
  deco.push({ type: "polygon", z: 50, silent: true, style: { fill: GREEN },
    shape: { points: [[x - 2.5 * k, y - 6 * k], [x + 2.5 * k, y - 6 * k], [x + 2.5 * k, y - k], [x + 5.5 * k, y - k], [x, y + 6 * k], [x - 5.5 * k, y - k], [x - 2.5 * k, y - k]] } });
}
function box(x, y, w, h, fill, stroke, z) {
  deco.push({ type: "rect", z: z === undefined ? 40 : z, silent: true, shape: { x: x, y: y, width: w, height: h },
    style: { fill: fill || "none", stroke: stroke || "none", lineWidth: 1 } });
}

// frame
box(0.5, 0.5, 1410, 727, "none", "#fff");
box(1.5, 2.5, 1407, 725, "none", "#FF0000");

// panel frames, under the plots
box(5.5, 49.5, 1326, 247, "#fff", "none", -1);
box(5.5, 49.5, 1326, 247, "none", "#FF00FF", 45);
box(5.5, 299.5, 1326, 123, "#fff", "#9C8E7E", -1);
box(5.5, 425.5, 1326, 123, "#fff", "#9C8E7E", -1);
box(5.5, 551.5, 1326, 127, "#fff", "#9C8E7E", -1);

// tabs
deco.push({ type: "circle", z: 40, silent: true, shape: { cx: 10.5, cy: 12.5, r: 7 }, style: { fill: "#D8D8D8", stroke: "#999" } });
text("▾", 10.5, 12.5, "#666", "10px " + CJK, "center");
[[21, 78, "#999"], [73, 124, "#777"], [122, 164, "#999"]].forEach(function (t) {
  deco.push({ type: "polyline", z: 40, silent: true, shape: { points: [[t[0], 19], [t[0] + 6, 5], [t[1] - 6, 5], [t[1], 19]] },
    style: { fill: "none", stroke: t[2] } });
});
text("走勢圖", 28, 12.5, "#8a8a8a", '12px "Noto Sans CJK TC"');
text("K線圖", 80, 12.5, "#D03030", '12px "Noto Sans CJK TC"');
text("速覽", 127, 12.5, "#8a8a8a", '12px "Noto Sans CJK TC"');

// header line
cjk("英鎊(GBP)", 4);
cjk("日線圖", 105);
big("2012", 174, "#000"); big("/", 227, "#000"); big("05", 237, "#000"); big("/", 265, "#000"); big("31", 275, "#000");
cjk("開", 314); big("1.5475", 341, GREEN);
cjk("高", 425); big("1.5484", 451, "#FF0000");
cjk("低", 535); big("1.5459", 561, GREEN);
cjk("收", 645); big("1.5471", 671, GREEN); arrow(754, 34, 1.1);
cjk("量", 780); big("22175", 805, "#000");
big("-", 888, "#000"); big("0.0010", 898, "#000");
big("(", 976, "#000"); big("-", 985, "#000"); big("0.06", 994, "#000"); big("%", 1040, "#000"); big(")", 1064, "#000");

// panel legends
bold("SMA5 1.5585", 7, 60.5, "#7B0000"); arrow(128, 60.5);
bold("SMA10 1.5671", 158, 60.5, "#00CCCC"); arrow(289, 60.5);
bold("SMA20 1.5868", 318, 60.5, "#EE1199"); arrow(450, 60.5);
bold("SMA60 1.5923", 479, 60.5, "#FF7733"); arrow(611, 60.5);

text("成交量", 7, 310, "#000", '14px "Noto Sans CJK TC"');
bold("22175", 58, 310, "#000"); arrow(120, 310);
bold("MA5 74481", 155, 310, "#FF0000"); arrow(260, 310);
bold("MA10 83665", 290, 310, "#0070C0"); arrow(405, 310);

bold("DIF12-26 -0.0131", 7, 436.5, "#FF0000"); arrow(168, 436.5);
bold("MACD9 -0.0084", 198, 436.5, "#0070C0"); arrow(337, 436.5);
bold("OSC -0.0047", 366, 436.5, "#0000FF"); arrow(481, 436.5);

bold("K(9,3) 6.25", 7, 562.5, "#FF0000"); arrow(113, 562.5); bold("%", 121, 562.5, "#FF0000");
bold("D(9,3) 8.66", 162, 562.5, "#0070C0"); arrow(267, 562.5); bold("%", 275, 562.5, "#0070C0");

// first x label hangs left of its tick
text(monthLabels[0], 7, 700, "#808080", "16px " + SERIF);

// bottom toolbar
box(194, 710.5, 1102, 16, "#E3E4E6");
[[4, "2011/10/18"], [100, "2012/05/31"]].forEach(function (c) {
  box(c[0] + 0.5, 712.5, 77, 12, "#fff", "#555");
  text(c[1], c[0] + 3, 719, "#000", '11px "Liberation Sans"');
  box(c[0] + 60.5, 713.5, 15, 10, "#D8D8D8", "#999");
  text("▾", c[0] + 68, 718.5, "#000", "10px " + CJK, "center");
});
text("~", 91, 719, "#000", '12px "Liberation Sans"', "center");
box(179.5, 711.5, 14, 9, "#00D8E8", "#3070C0");
text("GO", 186.5, 716, "#0000C0", 'bold 8px "Liberation Sans"', "center");
deco.push({ type: "circle", z: 40, silent: true, shape: { cx: 189, cy: 722, r: 4 }, style: { fill: "#F0C090" } });
box(195.5, 711.5, 15, 15, "#D8D8D8", "#AAA");
text("‹", 203, 718, "#333", "bold 16px " + SERIF, "center");
box(1247.5, 711.5, 31, 15, "#C8C8C8", "#AAA");
box(1279.5, 711.5, 15, 15, "#D8D8D8", "#AAA");
text("›", 1287, 718, "#333", "bold 16px " + SERIF, "center");
// tool icons
box(1297, 714, 13, 10, "#F8D060");
deco.push({ type: "polyline", z: 41, silent: true, shape: { points: [[1297, 721], [1301, 716], [1305, 719], [1310, 714]] }, style: { fill: "none", stroke: "#2060C0" } });
box(1312.5, 711.5, 15, 15, "#F08080", "#C04040");
box(1315.5, 714.5, 9, 9, "#FFF8E0", "#C08040");
box(1334.5, 716.5, 5, 5, "none", "#0000E0");
box(1347.5, 714.5, 8, 8, "none", "#0000E0");
text("↶", 1367, 718, "#0000E0", "bold 14px " + CJK, "center");
box(1377, 716, 2, 9, "#E00000"); box(1381, 713, 2, 12, "#E0C000"); box(1385, 718, 2, 7, "#00A000");
deco.push({ type: "polyline", z: 41, silent: true, shape: { points: [[1383, 713], [1386, 716], [1391, 710]] }, style: { fill: "none", stroke: "#E00000", lineWidth: 2 } });
deco.push({ type: "circle", z: 41, silent: true, shape: { cx: 1400, cy: 717, r: 5 }, style: { fill: "#CFE0F8", stroke: "#6080B0" } });

const chart = echarts.init(document.getElementById("chart"), null, { renderer: "canvas" });
chart.setOption({
  animation: false,
  backgroundColor: "#F0F2F1",
  tooltip: { show: false },
  grid: grids,
  xAxis: xAxes,
  yAxis: yAxes,
  series: series,
  graphic: { elements: deco }
});
</script>
</body>
</html>
